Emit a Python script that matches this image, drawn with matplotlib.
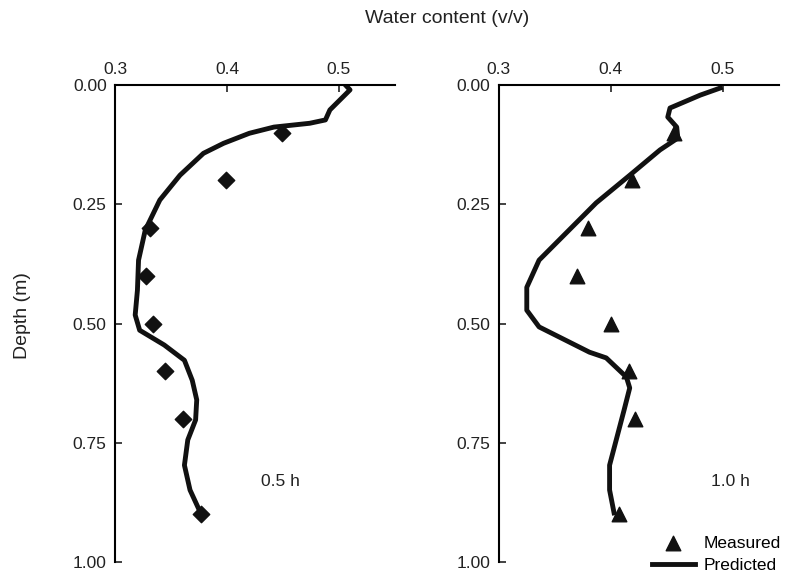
import numpy as np
import matplotlib.pyplot as plt

plt.rcParams['font.family'] = ['Liberation Sans', 'DejaVu Sans']

# Medidos (contenido de agua vs profundidad)
depth_meas = [0.1, 0.2, 0.3, 0.4, 0.5, 0.6, 0.7, 0.9]
wc_05h = [0.449, 0.399, 0.331, 0.328, 0.334, 0.345, 0.361, 0.377]
wc_10h = [0.457, 0.419, 0.380, 0.370, 0.400, 0.416, 0.422, 0.407]

# Predichos
pred_05h_wc = [0.506, 0.510, 0.492, 0.488, 0.474, 0.442, 0.420, 0.397, 0.379,
               0.358, 0.340, 0.327, 0.321, 0.320, 0.318, 0.322, 0.344, 0.362,
               0.369, 0.373, 0.372, 0.365, 0.362, 0.367, 0.377]
pred_05h_d = [0.000, 0.010, 0.052, 0.073, 0.080, 0.088, 0.101, 0.122, 0.143,
              0.189, 0.241, 0.304, 0.367, 0.430, 0.482, 0.514, 0.545, 0.577,
              0.619, 0.660, 0.702, 0.744, 0.797, 0.849, 0.900]
pred_10h_wc = [0.498, 0.480, 0.453, 0.451, 0.459, 0.460, 0.444, 0.417, 0.387,
               0.336, 0.325, 0.325, 0.336, 0.381, 0.396, 0.414, 0.417, 0.412,
               0.399, 0.399, 0.403]
pred_10h_d = [0.006, 0.021, 0.048, 0.067, 0.088, 0.111, 0.136, 0.189, 0.247,
              0.367, 0.424, 0.472, 0.507, 0.560, 0.572, 0.612, 0.635, 0.681,
              0.797, 0.849, 0.897]

fig = plt.figure(figsize=(7.88, 5.83), dpi=100)
ax1 = fig.add_axes([0.146, 0.036, 0.355, 0.818])
ax2 = fig.add_axes([0.633, 0.036, 0.355, 0.818])

for ax in (ax1, ax2):
    ax.set_xlim(0.3, 0.55)
    ax.set_ylim(1.0, 0.0)
    ax.set_xticks([0.3, 0.4, 0.5])
    ax.set_xticklabels(['0.3', '0.4', '0.5'])
    ax.set_yticks([0, 0.25, 0.5, 0.75, 1.0])
    ax.set_yticklabels(['0.00', '0.25', '0.50', '0.75', '1.00'])
    ax.xaxis.tick_top()
    ax.spines['right'].set_visible(False)
    ax.spines['bottom'].set_visible(False)
    ax.spines['left'].set_linewidth(1.5)
    ax.spines['top'].set_linewidth(1.5)
    ax.tick_params(direction='in', length=5, width=1.2, labelsize=12.5,
                   color='#222222', pad=6, labelcolor='#222222')

ax1.plot(pred_05h_wc, pred_05h_d, color='#111111', lw=3.5, solid_joinstyle='round')
ax1.scatter(wc_05h, depth_meas, marker='D', s=70, color='#111111', zorder=3)
ax1.text(0.43, 0.84, '0.5 h', fontsize=12.5, color='#222222')

ax2.plot(pred_10h_wc, pred_10h_d, color='#111111', lw=3.5, solid_joinstyle='round',
         label='Predicted')
ax2.scatter(wc_10h, depth_meas, marker='^', s=110, color='#111111', zorder=3,
            label='Measured')
ax2.text(0.49, 0.84, '1.0 h', fontsize=12.5, color='#222222')
ax2.legend(loc='lower right', bbox_to_anchor=(1.065, -0.055), frameon=False,
           fontsize=12.5, handlelength=2.5, labelspacing=0.4, handletextpad=0.5,
           handles=ax2.get_legend_handles_labels()[0][::-1])

ax1.set_ylabel('Depth (m)', fontsize=14, color='#222222')
ax1.yaxis.set_label_coords(-0.30, 0.516)
fig.text(0.567, 0.969, 'Water content (v/v)', ha='center', va='center',
         fontsize=14, color='#222222')

fig.savefig('out.png', dpi=100)
